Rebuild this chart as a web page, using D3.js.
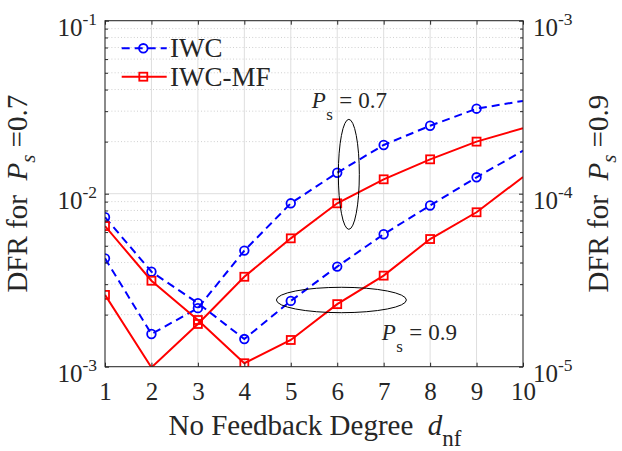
<!DOCTYPE html>
<html><head><meta charset="utf-8">
<script src="https://cdn.jsdelivr.net/npm/d3@7"></script>
<style>
body{margin:0;background:#fff}
svg{display:block}
text{font-family:"Liberation Serif","Times New Roman",serif;fill:#262626}
</style>
</head><body>
<svg id="c" width="622" height="451"></svg>
<script>
// ---------- data ----------
const nfDegree = [1, 2, 3, 4, 5, 6, 7, 8, 9, 10];
const iwcPs07   = [4.23e-3, 1.545e-3, 2.18e-3, 4.69e-3, 8.80e-3, 1.322e-2, 1.912e-2, 2.47e-2, 3.10e-2, 3.44e-2];
const iwcmfPs07 = [2.60e-3, 9.9e-4, 1.766e-3, 3.31e-3, 5.52e-3, 8.80e-3, 1.211e-2, 1.58e-2, 2.00e-2, 2.39e-2];
const iwcPs09   = [7.31e-5, 3.54e-5, 2.33e-5, 1.445e-5, 2.40e-5, 3.79e-5, 5.83e-5, 8.55e-5, 1.244e-4, 1.773e-4];
const iwcmfPs09 = [6.50e-5, 3.14e-5, 1.862e-5, 1.047e-5, 1.427e-5, 2.30e-5, 3.36e-5, 5.47e-5, 7.81e-5, 1.249e-4];
const xTicks = [1, 2, 3, 4, 5, 6, 7, 8, 9, 10];
const leftTicks = [1e-3, 1e-2, 1e-1];
const rightTicks = [1e-5, 1e-4, 1e-3];
const legendLabels = ["IWC", "IWC-MF"];
const xLabel = "No Feedback Degree";
const yLeftLabel = "=0.7";
const yRightLabel = "=0.9";

// ---------- layout ----------
const L = 105, R = 523, T = 20.7, B = 366.7;
const svg = d3.select("#c");
const x = d3.scaleLinear().domain([1, 10]).range([L, R]);
const yL = d3.scaleLog().domain([1e-3, 1e-1]).range([B, T]);
const yR = d3.scaleLog().domain([1e-5, 1e-3]).range([B, T]);
const BLUE = "#0000ff", RED = "#ff0000";

function minorTicks(dom) {
  const out = [];
  const a = Math.round(Math.log10(dom[0])), b = Math.round(Math.log10(dom[1]));
  for (let e = a; e < b; e++) for (let m = 2; m <= 9; m++) out.push(m * Math.pow(10, e));
  return out;
}
const minorL = minorTicks(yL.domain());
const minorR = minorTicks(yR.domain());

// ---------- grid ----------
const grid = svg.append("g");
grid.selectAll("line.mn").data(minorL).join("line")
  .attr("x1", L).attr("x2", R).attr("y1", d => yL(d)).attr("y2", d => yL(d))
  .attr("stroke", "#c4c4c4").attr("stroke-width", 0.8).attr("stroke-dasharray", "1,2.2");
grid.selectAll("line.mj").data(leftTicks).join("line")
  .attr("x1", L).attr("x2", R).attr("y1", d => yL(d)).attr("y2", d => yL(d))
  .attr("stroke", "#dedede").attr("stroke-width", 1);
grid.selectAll("line.vx").data(xTicks).join("line")
  .attr("x1", d => x(d)).attr("x2", d => x(d)).attr("y1", T).attr("y2", B)
  .attr("stroke", "#dedede").attr("stroke-width", 1);

// ---------- clip ----------
svg.append("clipPath").attr("id", "clip").append("rect")
  .attr("x", L).attr("y", T).attr("width", R - L).attr("height", B - T);
const plot = svg.append("g").attr("clip-path", "url(#clip)");

const series = [
  {vals: iwcPs07, y: yL, color: BLUE, dash: "8,5", marker: "circle"},
  {vals: iwcmfPs07, y: yL, color: RED, dash: null, marker: "square"},
  {vals: iwcPs09, y: yR, color: BLUE, dash: "8,5", marker: "circle"},
  {vals: iwcmfPs09, y: yR, color: RED, dash: null, marker: "square"}
];

series.forEach(s => {
  const pts = nfDegree.map((d, i) => [d, s.vals[i]]);
  const line = d3.line().x(p => x(p[0])).y(p => s.y(p[1]));
  plot.append("path").attr("d", line(pts)).attr("fill", "none")
    .attr("stroke", s.color).attr("stroke-width", 2)
    .attr("stroke-dasharray", s.dash);
  const inside = pts.filter(p => p[1] >= s.y.domain()[0] && p[1] <= s.y.domain()[1] && p[0] < x.domain()[1]);
  if (s.marker === "circle") {
    plot.selectAll(null).data(inside).join("circle")
      .attr("cx", p => x(p[0])).attr("cy", p => s.y(p[1])).attr("r", 4.3)
      .attr("fill", "none").attr("stroke", s.color).attr("stroke-width", 1.8);
  } else {
    plot.selectAll(null).data(inside).join("rect")
      .attr("x", p => x(p[0]) - 4).attr("y", p => s.y(p[1]) - 4)
      .attr("width", 8).attr("height", 8)
      .attr("fill", "none").attr("stroke", s.color).attr("stroke-width", 1.8);
  }
});

// ---------- axes ----------
const FS = 25, SUP = 17.5;
const ax = svg.append("g");
ax.append("rect").attr("x", L).attr("y", T).attr("width", R - L).attr("height", B - T)
  .attr("fill", "none").attr("stroke", "#262626").attr("stroke-width", 1);

const gx = ax.append("g").attr("transform", `translate(0,${B})`)
  .call(d3.axisBottom(x).tickValues(xTicks).tickSize(-4).tickFormat(d3.format("d")));
gx.select(".domain").remove();
gx.selectAll("line").attr("stroke", "#262626");
gx.selectAll("text").attr("y", 33.3).attr("dy", null)
  .style("font-size", FS + "px").attr("fill", "#262626").style("font-family", "Liberation Serif");
ax.append("g").attr("transform", `translate(0,${T})`)
  .call(d3.axisTop(x).tickValues(xTicks).tickSize(-4).tickFormat(""))
  .call(g => { g.select(".domain").remove(); g.selectAll("line").attr("stroke", "#262626"); });

function expLabels(g, anchor, dx) {
  g.selectAll(".tick text").each(function(d) {
    const t = d3.select(this);
    const e = Math.round(Math.log10(d));
    t.text(null).attr("x", dx).attr("dy", null).attr("y", 14.3)
      .attr("text-anchor", anchor).attr("fill", "#262626")
      .style("font-size", FS + "px").style("font-family", "Liberation Serif");
    t.append("tspan").text("10");
    t.append("tspan").attr("dy", -10.5).style("font-size", SUP + "px").text(String(e));
  });
}
const gl = ax.append("g").attr("transform", `translate(${L},0)`)
  .call(d3.axisLeft(yL).tickValues(leftTicks).tickSize(-4));
gl.select(".domain").remove();
gl.selectAll("line").attr("stroke", "#262626");
expLabels(gl, "end", -8);
ax.append("g").attr("transform", `translate(${L},0)`)
  .call(d3.axisLeft(yL).tickValues(minorL).tickSize(-3).tickFormat(""))
  .call(g => { g.select(".domain").remove(); g.selectAll("line").attr("stroke", "#262626"); });
const gr = ax.append("g").attr("transform", `translate(${R},0)`)
  .call(d3.axisRight(yR).tickValues(rightTicks).tickSize(-4));
gr.select(".domain").remove();
gr.selectAll("line").attr("stroke", "#262626");
expLabels(gr, "start", 10);
ax.append("g").attr("transform", `translate(${R},0)`)
  .call(d3.axisRight(yR).tickValues(minorR).tickSize(-3).tickFormat(""))
  .call(g => { g.select(".domain").remove(); g.selectAll("line").attr("stroke", "#262626"); });

// ---------- axis labels ----------
const LFS = 29;
const xl = svg.append("text").attr("x", 315).attr("y", 435).attr("text-anchor", "middle")
  .style("font-size", LFS + "px").attr("xml:space", "preserve");
xl.append("tspan").text(xLabel + "  ");
xl.append("tspan").style("font-style", "italic").text("d");
xl.append("tspan").attr("dy", 11).style("font-size", "23px").text("nf");

function yLabel(cx, txt) {
  const t = svg.append("text").attr("transform", `translate(${cx},${(T + B) / 2}) rotate(-90)`)
    .attr("text-anchor", "middle").style("font-size", LFS + "px").attr("xml:space", "preserve");
  t.append("tspan").text("DFR for  ");
  t.append("tspan").style("font-style", "italic").text("P");
  t.append("tspan").attr("dy", 8).style("font-style", "italic").style("font-size", "21px").text("s");
  t.append("tspan").attr("dy", -8).text(" " + txt);
}
yLabel(27, yLeftLabel);
yLabel(608, yRightLabel);

// ---------- legend ----------
const lg = svg.append("g");
const legendItems = [
  {label: legendLabels[0], color: BLUE, dash: "8,5", marker: "circle"},
  {label: legendLabels[1], color: RED, dash: null, marker: "square"}
];
legendItems.forEach((it, i) => {
  const yy = 48.3 + i * 28.4;
  lg.append("line").attr("x1", 121.7).attr("x2", 166.7).attr("y1", yy).attr("y2", yy)
    .attr("stroke", it.color).attr("stroke-width", 2).attr("stroke-dasharray", it.dash);
  if (it.marker === "circle")
    lg.append("circle").attr("cx", 143.3).attr("cy", yy).attr("r", 4.3)
      .attr("fill", "none").attr("stroke", it.color).attr("stroke-width", 1.8);
  else
    lg.append("rect").attr("x", 139.3).attr("y", yy - 4).attr("width", 8).attr("height", 8)
      .attr("fill", "none").attr("stroke", it.color).attr("stroke-width", 1.8);
  lg.append("text").attr("x", 170).attr("y", yy + 9).style("font-size", "27px").text(it.label);
});

// ---------- annotations ----------
const ann = svg.append("g");
ann.append("ellipse").attr("cx", x(6.25)).attr("cy", yL(1.294e-2)).attr("rx", 10.5).attr("ry", 55)
  .attr("fill", "none").attr("stroke", "#000").attr("stroke-width", 1);
ann.append("ellipse").attr("cx", x(6.09)).attr("cy", yL(2.43e-3)).attr("rx", 65).attr("ry", 12.7)
  .attr("fill", "none").attr("stroke", "#000").attr("stroke-width", 1);

function psText(px, py, val) {
  const g = ann.append("g").attr("transform", `translate(${px},${py})`);
  g.append("text").attr("x", 0).attr("y", 0).style("font-size", "23px").style("font-style", "italic").text("P");
  g.append("text").attr("x", 14.5).attr("y", 11.7).style("font-size", "17px").text("s");
  g.append("text").attr("x", 27.5).attr("y", 0).style("font-size", "23px").text("=");
  g.append("text").attr("x", 46.5).attr("y", 0).style("font-size", "23px").text(val);
}
psText(311.7, 108.3, "0.7");
psText(381.7, 340, "0.9");
</script>
</body></html>
